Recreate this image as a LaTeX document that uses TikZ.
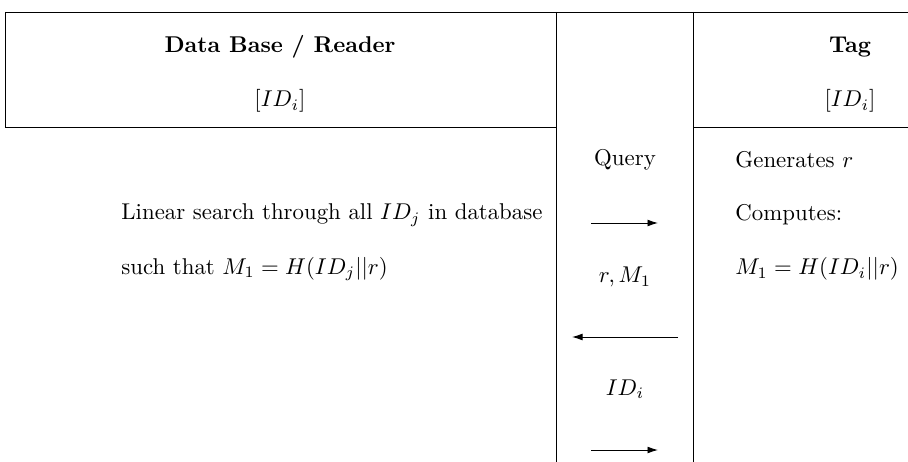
\documentclass[tikz,border=0pt]{standalone}
\usetikzlibrary{arrows.meta}
\begin{document}
\begin{tikzpicture}[x=0.438pt,y=-0.438pt,>={Latex[length=4.6pt,width=3pt]}]
  \useasboundingbox (0,0) rectangle (908,462);
  % frame
  \draw (5,12) -- (908,12);
  \draw (5,12) -- (5,127);
  \draw (5,127) -- (556,127);
  \draw (693,127) -- (908,127);
  \draw (556,12) -- (556,462);
  \draw (693,12) -- (693,462);
  % headings
  \node (DB) at (280,47) {\textbf{Data Base / Reader}};
  \node (DBid) at (280,101) {$[ID_i]$};
  \node (Tag) at (850,47) {\textbf{Tag}};
  \node (Tagid) at (850,101) {$[ID_i]$};
  % reader side
  \node (Search) at (121,215) [anchor=west,inner xsep=0pt] {Linear search through all $ID_j$ in database};
  \node (Match) at (121,269) [anchor=west,inner xsep=0pt] {such that $M_1=H(ID_j||r)$};
  % tag side
  \node (Gen) at (735,160) [anchor=west,inner xsep=0pt] {Generates $r$};
  \node (Comp) at (735,215) [anchor=west,inner xsep=0pt] {Computes:};
  \node (Hash) at (735,269) [anchor=west,inner xsep=0pt] {$M_1=H(ID_i||r)$};
  % messages
  \node (Query) at (625,160) {Query};
  \node (RM) at (625,277) {$r,M_1$};
  \node (ID) at (625,389) {$ID_i$};
  \coordinate (Q0) at (591,223);
  \coordinate (Q1) at (658,223);
  \coordinate (R0) at (678,337);
  \coordinate (R1) at (572,337);
  \coordinate (I0) at (591,450);
  \coordinate (I1) at (658,450);
  \draw [->] (Q0) -- (Q1);
  \draw [->] (R0) -- (R1);
  \draw [->] (I0) -- (I1);
\end{tikzpicture}
\end{document}
